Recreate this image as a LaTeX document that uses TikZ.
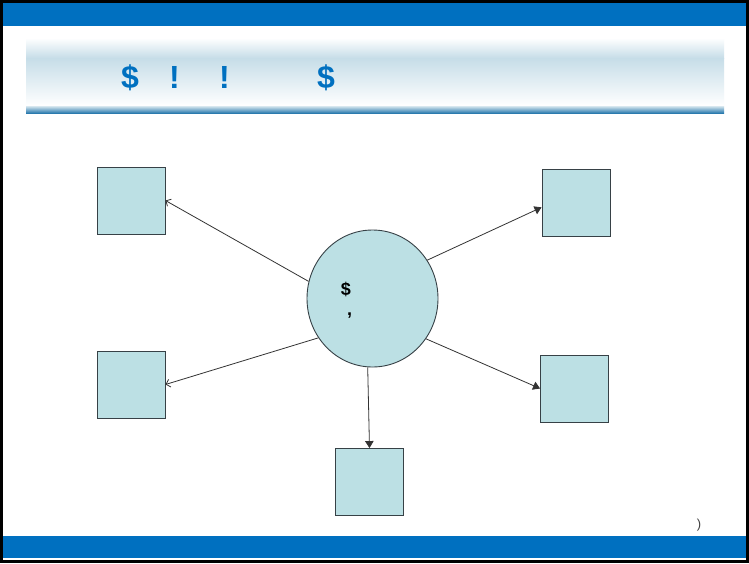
\documentclass[tikz,border=0pt]{standalone}
\usepackage{fontspec}
\setmainfont{Liberation Sans}
\usetikzlibrary{arrows.meta,shapes.geometric}

\definecolor{barblu}{RGB}{0,112,192}
\definecolor{fasciablu}{RGB}{198,221,232}
\definecolor{lineablu}{RGB}{42,122,174}
\definecolor{riempi}{RGB}{188,224,228}
\definecolor{bordo}{RGB}{55,65,70}

\tikzset{
    scatola/.style={draw=bordo, fill=riempi, line width=0.9pt, minimum width=68pt, minimum height=67pt, inner sep=0pt},
    titolo/.style={anchor=base, text=barblu, font=\fontsize{32}{38}\selectfont\bfseries, inner sep=0pt},
    segno/.style={anchor=base, font=\fontsize{18}{21}\selectfont\bfseries, inner sep=0pt},
    freccia/.style={draw=black!80, line width=0.8pt},
    aperta/.style={freccia, -{Straight Barb[length=4pt,width=8pt]}},
    piena/.style={freccia, -{Triangle[length=7pt,width=8.5pt]}}
}

\begin{document}
\begin{tikzpicture}[x=1pt,y=-1pt]
        \useasboundingbox (0,0) rectangle (749,563);
        % Cornice
        \fill[white] (0,0) rectangle (749,563);
        \fill[barblu] (3,3) rectangle (746,26); % barra in alto
        \fill[barblu] (3,536) rectangle (746,558); % barra in basso
        \draw[line width=3pt] (1.5,1.5) rectangle (747.5,561.5);

        % Fascia del titolo
        \shade[top color=white, bottom color=fasciablu] (26,38) rectangle (724,58);
        \shade[top color=fasciablu, bottom color=white] (26,58) rectangle (724,106);
        \shade[top color=fasciablu!70, bottom color=lineablu] (26,106) rectangle (724,113);

        \node[titolo] (t1) at (130,88) {\$};
        \node[titolo] (t2) at (174.5,88) {!};
        \node[titolo] (t3) at (224.5,88) {!};
        \node[titolo] (t4) at (326,88) {\$};

        % Cerchio centrale
        \node[ellipse, draw=bordo, fill=riempi, line width=0.9pt, minimum width=131pt, minimum height=137pt, inner sep=0pt] (centro) at (372.5,298.5) {};
        \node[segno] (s1) at (346,295) {\$};
        \node[segno] (s2) at (349.5,315) {,};

        % Riquadri
        \node[scatola] (alsx) at (131,200.5) {};
        \node[scatola] (aldx) at (576,202.5) {};
        \node[scatola] (bssx) at (131,384.5) {};
        \node[scatola] (bsdx) at (574.5,388.5) {};
        \node[scatola] (sotto) at (369.5,482) {};

        % Frecce
        \draw[aperta] (centro.165) -- (alsx.east);
        \draw[aperta] (centro.216) -- (bssx.east);
        \draw[piena] (centro.35) -- (aldx.188);
        \draw[piena] (centro.-37) -- (bsdx.west);
        \draw[piena] (centro.266) -- (sotto.north);

        % Numero di pagina
        \node[font=\fontsize{13}{15}\selectfont, text=black!75] (pagina) at (699,525) {)};
    \end{tikzpicture}
\end{document}
